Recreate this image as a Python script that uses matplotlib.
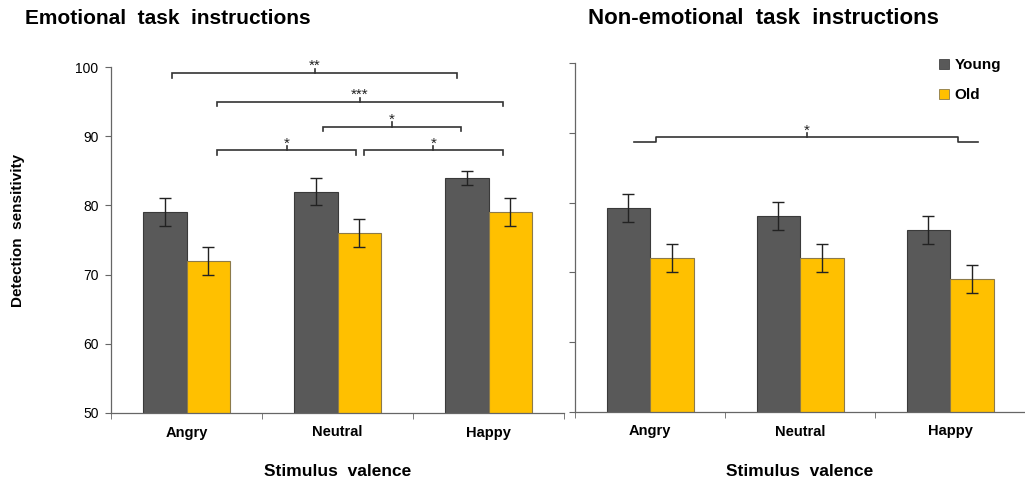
import matplotlib
matplotlib.use("Agg")
import matplotlib.pyplot as plt
from matplotlib.lines import Line2D
import numpy as np

plt.rcParams['font.family'] = ['Liberation Sans', 'DejaVu Sans']

# ---- data ----
categories = ["Angry", "Neutral", "Happy"]
groups = ["Young", "Old"]
emo_young = [79, 82, 84]
emo_young_err = [2, 2, 1]
emo_old = [72, 76, 79]
emo_old_err = [2, 2, 2]
non_young = [79.2, 78.1, 76.1]
non_young_err = [2, 2, 2]
non_old = [72.1, 72.1, 69.1]
non_old_err = [2, 2, 2]
yticks = [50, 60, 70, 80, 90, 100]
titles = ["Emotional  task  instructions", "Non-emotional  task  instructions"]
xlabel = "Stimulus  valence"
ylabel = "Detection  sensitivity"

# significance brackets (x in category units, y in data units, label)
left_brackets = [
    (-0.096, 1.791, 0.851, 99.13, "**"),
    (0.202, 2.096, 1.149, 94.99, "***"),
    (0.904, 1.818, 1.359, 91.40, "*"),
    (0.202, 1.123, 0.663, 87.96, "*"),
    (1.178, 2.096, 1.634, 87.96, "*"),
]

C_YOUNG = "#595959"
C_OLD = "#FFC000"
E_YOUNG = "#3a3a3a"
E_OLD = "#8c7a4a"
AX_COL = "#666666"

W, H = 1025, 483
fig = plt.figure(figsize=(W / 100, H / 100), dpi=100)

def axrect(x0, x1, ytop, ybot):
    return [x0 / W, 1 - ybot / H, (x1 - x0) / W, (ybot - ytop) / H]

ax1 = fig.add_axes(axrect(111, 564, 67, 413))
ax2 = fig.add_axes(axrect(575, 1025, 63, 412))

bw = 0.29
x = np.arange(len(categories))

def draw(ax, young, yerr, old, oerr):
    ax.bar(x - bw / 2, young, bw, color=C_YOUNG, edgecolor=E_YOUNG, linewidth=0.8, zorder=2)
    ax.bar(x + bw / 2, old, bw, color=C_OLD, edgecolor=E_OLD, linewidth=0.8, zorder=2)
    ax.errorbar(x - bw / 2, young, yerr=yerr, fmt='none', ecolor='#222222',
                elinewidth=1.0, capsize=4, capthick=1.0, zorder=3)
    ax.errorbar(x + bw / 2, old, yerr=oerr, fmt='none', ecolor='#222222',
                elinewidth=1.0, capsize=4, capthick=1.0, zorder=3)
    ax.set_xlim(-0.5, 2.5)
    ax.set_ylim(50, 100)
    for s in ['top', 'right']:
        ax.spines[s].set_visible(False)
    for s in ['left', 'bottom']:
        ax.spines[s].set_color(AX_COL)
        ax.spines[s].set_linewidth(0.9)
    ax.set_xticks(x)
    ax.set_xticklabels(categories, fontsize=10.5, fontweight='bold')
    ax.tick_params(axis='x', which='major', length=0, pad=9)
    ax.set_xticks([-0.5, 0.5, 1.5, 2.5], minor=True)
    ax.tick_params(axis='x', which='minor', length=4, color=AX_COL, direction='out')
    ax.set_yticks(yticks)
    ax.tick_params(axis='y', length=4, color=AX_COL, direction='out', labelsize=10, pad=5)
    ax.set_xlabel(xlabel, fontsize=12.5, fontweight='bold', labelpad=18)

draw(ax1, emo_young, emo_young_err, emo_old, emo_old_err)
draw(ax2, non_young, non_young_err, non_old, non_old_err)
ax2.set_yticklabels([])

BR_COL = "#333333"
drop = 0.65
up = 0.6
for x0, x1, xc, y, lab in left_brackets:
    ax1.plot([x0, x0, x1, x1], [y - drop, y, y, y - drop], color=BR_COL, lw=1.2,
             clip_on=False, solid_joinstyle='miter')
    ax1.plot([xc, xc], [y, y + up], color=BR_COL, lw=1.2, clip_on=False)
    ax1.text(xc, y + 0.4, lab, ha='center', va='baseline', fontsize=11,
             color='#222222', clip_on=False)

# right panel bracket
yb, yl = 89.36, 88.64
ax2.plot([-0.107, 0.04, 0.04, 2.053, 2.053, 2.187], [yl, yl, yb, yb, yl, yl],
         color=BR_COL, lw=1.2, clip_on=False)
ax2.plot([1.047, 1.047], [yb, yb + 0.6], color=BR_COL, lw=1.2)
ax2.text(1.047, yb + 0.3, "*", ha='center', va='baseline', fontsize=11, color='#222222')

# legend
handles = [Line2D([], [], marker='s', linestyle='none', markersize=7,
                  markerfacecolor=C_YOUNG, markeredgecolor='#444444', markeredgewidth=0.6),
           Line2D([], [], marker='s', linestyle='none', markersize=7,
                  markerfacecolor=C_OLD, markeredgecolor='#8c7a4a', markeredgewidth=0.6)]
fig.legend(handles, groups, loc='upper left', bbox_to_anchor=(939 / W, 1 - 58 / H),
           frameon=False, handlelength=0.6, handletextpad=0.4, labelspacing=1.05,
           prop={'weight': 'bold', 'size': 11}, borderaxespad=0, borderpad=0)

fig.text(25 / W, 1 - 18 / H, titles[0], fontsize=15, fontweight='bold', ha='left', va='center')
fig.text(588 / W, 1 - 18 / H, titles[1], fontsize=16, fontweight='bold', ha='left', va='center')
fig.text(18 / W, 1 - 230 / H, ylabel, fontsize=11, fontweight='bold', rotation=90,
         ha='center', va='center')

fig.savefig("out.png", dpi=100)
